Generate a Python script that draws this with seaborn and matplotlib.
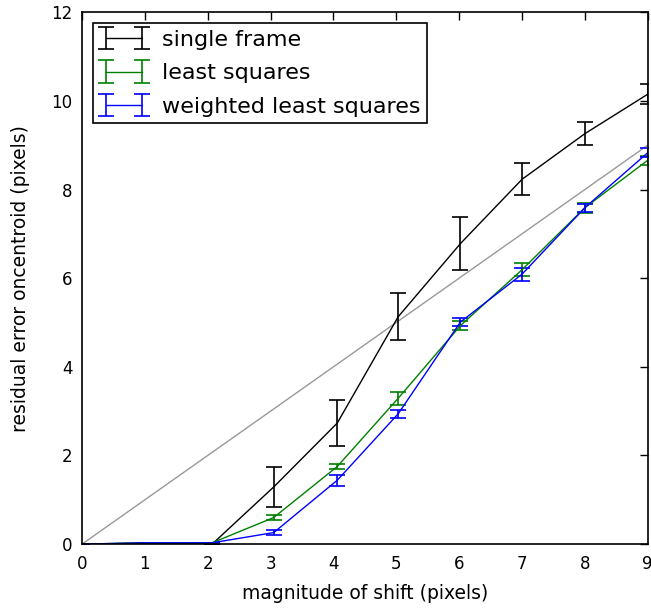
import matplotlib
matplotlib.use("Agg")
import matplotlib.pyplot as plt
import numpy as np
import pandas as pd
import seaborn as sns

# Shift magnitudes (pixels) at which each method was evaluated
shift = [0.0, 1.0, 2.07, 3.05, 4.06, 5.03, 6.02, 7.0, 8.0, 9.0]

# Residual centroid error (pixels) and its spread for each method
single_frame = [0.0, 0.02, 0.0, 1.29, 2.73, 5.13, 6.78, 8.23, 9.26, 10.15]
single_frame_err = [0.0, 0.0, 0.0, 0.45, 0.52, 0.53, 0.60, 0.36, 0.26, 0.23]

least_squares = [0.0, 0.03, 0.03, 0.60, 1.75, 3.29, 4.93, 6.19, 7.59, 8.66]
least_squares_err = [0.0, 0.0, 0.0, 0.06, 0.06, 0.15, 0.10, 0.15, 0.11, 0.10]

weighted_ls = [0.0, 0.03, 0.03, 0.26, 1.44, 2.94, 5.01, 6.09, 7.59, 8.83]
weighted_ls_err = [0.0, 0.0, 0.0, 0.06, 0.13, 0.09, 0.08, 0.15, 0.09, 0.10]

series_labels = ["single frame", "least squares", "weighted least squares"]
series_colors = ["black", "green", "blue"]

# Identity reference: residual equal to the shift itself
identity_x = [0, 9]
identity_y = [0, 9]

sns.set_style("white")
plt.rcParams.update({
    "font.family": ["DejaVu Sans"],
    "font.size": 12,
    "text.color": "black",
    "axes.labelcolor": "black",
    "xtick.color": "black",
    "ytick.color": "black",
    "xtick.direction": "in",
    "ytick.direction": "in",
    "xtick.top": True,
    "ytick.right": True,
    "xtick.major.size": 6,
    "ytick.major.size": 6,
    "xtick.major.width": 1,
    "ytick.major.width": 1,
    "xtick.major.pad": 8,
    "ytick.major.pad": 7,
    "axes.linewidth": 1.2,
    "axes.edgecolor": "black",
})

fig, ax = plt.subplots(figsize=(6.51, 6.10), dpi=100)
fig.subplots_adjust(left=0.126, right=0.995, bottom=0.108, top=0.980)

ident = pd.DataFrame({"x": identity_x, "y": identity_y})
sns.lineplot(data=ident, x="x", y="y", ax=ax, color="#999999", linewidth=1, legend=False)

values = [single_frame, least_squares, weighted_ls]
errors = [single_frame_err, least_squares_err, weighted_ls_err]
for vals, errs, lab, col in zip(values, errors, series_labels, series_colors):
    ax.errorbar(shift, vals, yerr=errs, fmt="-", color=col, ecolor=col,
                linewidth=1, elinewidth=1.2, capsize=6, capthick=1.2, label=lab)

ax.set_xlim(0, 9)
ax.set_ylim(0, 12)
ax.set_xticks(range(0, 10))
ax.set_yticks(range(0, 13, 2))
ax.tick_params(labelsize=12)
ax.set_xlabel("magnitude of shift (pixels)", fontsize=13.5, labelpad=8)
ax.set_ylabel("residual error oncentroid (pixels)", fontsize=13.5, labelpad=15)

leg = ax.legend(loc="upper left", numpoints=2, fancybox=False, framealpha=1,
                edgecolor="black", fontsize=16, borderaxespad=0.5,
                handlelength=2.2, handletextpad=0.6, labelspacing=0.6,
                borderpad=0.3)
leg.get_frame().set_linewidth(1.2)

fig.savefig("out.png", dpi=100, facecolor="white")
